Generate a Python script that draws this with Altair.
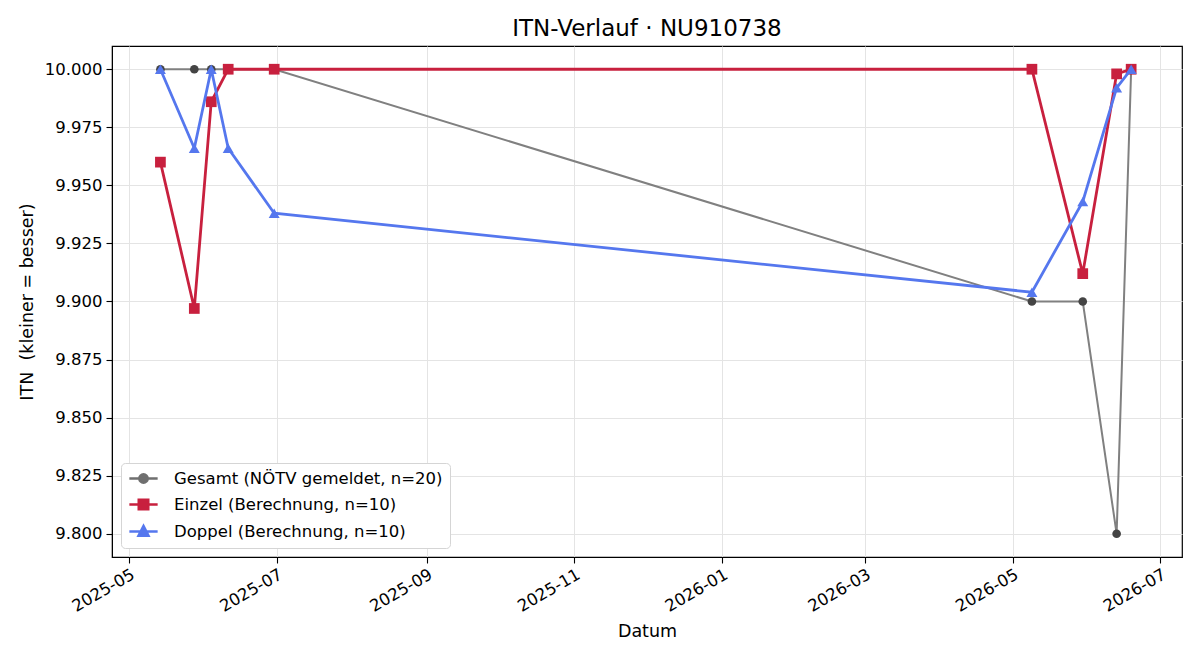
import altair as alt
import pandas as pd

# ---- data ----
series_names = [
    "Gesamt (NÖTV gemeldet, n=20)",
    "Einzel (Berechnung, n=10)",
    "Doppel (Berechnung, n=10)",
]
legend_colors = ["#6f6f6f", "#C8203E", "#5577EE"]

dates_gesamt = ["2025-05-14", "2025-05-28", "2025-06-04", "2025-06-30",
                "2026-05-09", "2026-05-30", "2026-06-13", "2026-06-19"]
itn_gesamt = [10.0, 10.0, 10.0, 10.0, 9.9, 9.9, 9.8, 10.0]

dates_einzel = ["2025-05-14", "2025-05-28", "2025-06-04", "2025-06-11", "2025-06-30",
                "2026-05-09", "2026-05-30", "2026-06-13", "2026-06-19"]
itn_einzel = [9.960, 9.897, 9.986, 10.0, 10.0, 10.0, 9.912, 9.998, 10.0]

dates_doppel = ["2025-05-14", "2025-05-28", "2025-06-04", "2025-06-11", "2025-06-30",
                "2026-05-09", "2026-05-30", "2026-06-13", "2026-06-19"]
itn_doppel = [10.0, 9.966, 10.0, 9.966, 9.938, 9.904, 9.943, 9.992, 10.0]

y_ticks = [9.800, 9.825, 9.850, 9.875, 9.900, 9.925, 9.950, 9.975, 10.000]
x_ticks = [(2025, 5), (2025, 7), (2025, 9), (2025, 11),
           (2026, 1), (2026, 3), (2026, 5), (2026, 7)]

frames = []
for name, d, v in zip(series_names,
                      [dates_gesamt, dates_einzel, dates_doppel],
                      [itn_gesamt, itn_einzel, itn_doppel]):
    frames.append(pd.DataFrame({"Datum": d, "ITN": v, "Serie": name}))
df = pd.concat(frames, ignore_index=True)

FONT = "DejaVu Sans"

x_enc = alt.X(
    "Datum:T",
    title="Datum",
    scale=alt.Scale(type="utc",
                    domain=[alt.DateTime(year=2025, month=4, date=24, utc=True),
                            alt.DateTime(year=2026, month=7, date=10, utc=True)]),
    axis=alt.Axis(
        values=[alt.DateTime(year=y, month=m, date=1, utc=True) for y, m in x_ticks],
        labelExpr="utcFormat(datum.value, '%Y-%m')",
        labelAngle=330, labelAlign="right", labelBaseline="top",
        labelPadding=3, titlePadding=8,
    ),
)
y_enc = alt.Y(
    "ITN:Q",
    title="ITN \u00a0(kleiner = besser)",
    scale=alt.Scale(domain=[9.79, 10.01], nice=False, zero=False),
    axis=alt.Axis(values=y_ticks, format=".3f", titlePadding=8),
)

base = alt.Chart(df)

line_widths = [2.0, 2.8, 2.8]
line_colors = ["#808080", "#C8203E", "#5577EE"]
marker_colors = ["#444444", "#C8203E", "#5577EE"]
shapes = ["circle", "square", "triangle-up"]
sizes = [75, 115, 120]

layers = []
for i, name in enumerate(series_names):
    sub = base.transform_filter(alt.datum.Serie == name)
    layers.append(
        sub.mark_line(color=line_colors[i], strokeWidth=line_widths[i]).encode(x=x_enc, y=y_enc)
    )
    layers.append(
        sub.mark_point(filled=True, shape=shapes[i], size=sizes[i],
                       color=marker_colors[i], opacity=1).encode(x=x_enc, y=y_enc)
    )

# legend symbols: a line segment plus the marker, as custom paths
legend_paths = [
    "M-2,0L2,0M0.6,0A0.6,0.6,0,1,1,-0.6,0A0.6,0.6,0,1,1,0.6,0Z",
    "M-2,0L2,0M-0.68,-0.68L0.68,-0.68L0.68,0.68L-0.68,0.68Z",
    "M-2,0L2,0M0,-0.8L0.72,0.6L-0.72,0.6Z",
]

leg = alt.Legend(
    title=None, orient="bottom-left", offset=9,
    symbolSize=200, symbolOpacity=1, symbolStrokeWidth=2.4, symbolOffset=7,
    labelFont=FONT, labelFontSize=16.5, labelColor="#000000", labelLimit=500,
    rowPadding=6, padding=7, labelOffset=22,
    strokeColor="#d5d5d5", fillColor="#ffffff", cornerRadius=4,
)

legend_layer = base.mark_point(filled=True, opacity=0, strokeWidth=2.4).encode(
    x=x_enc, y=y_enc,
    fill=alt.Fill("Serie:N", scale=alt.Scale(domain=series_names, range=legend_colors),
                  sort=series_names, legend=leg),
    stroke=alt.Stroke("Serie:N", scale=alt.Scale(domain=series_names, range=legend_colors),
                      sort=series_names, legend=leg),
    shape=alt.Shape("Serie:N", scale=alt.Scale(domain=series_names, range=legend_paths),
                    sort=series_names, legend=leg),
)

chart = alt.layer(*layers, legend_layer).properties(
    width=1070, height=511,
    title=alt.TitleParams("ITN-Verlauf · NU910738", font=FONT, fontSize=23,
                          fontWeight="normal", color="#000000", offset=5,
                          anchor="middle"),
    padding={"left": 112, "top": 46, "right": 18, "bottom": 103},
    autosize=alt.AutoSizeParams(type="none"),
).configure_view(
    stroke="#000000", strokeWidth=1.2,
).configure_axis(
    labelFont=FONT, titleFont=FONT, labelFontSize=16.5, titleFontSize=17.5,
    titleFontWeight="normal", labelColor="#000000", titleColor="#000000",
    domainColor="#000000", tickColor="#000000", tickSize=6, tickWidth=1.1,
    gridColor="#e4e4e4", gridWidth=1, labelPadding=4,
)

chart.save("out.html", embed_options={"renderer": "svg", "actions": False})
